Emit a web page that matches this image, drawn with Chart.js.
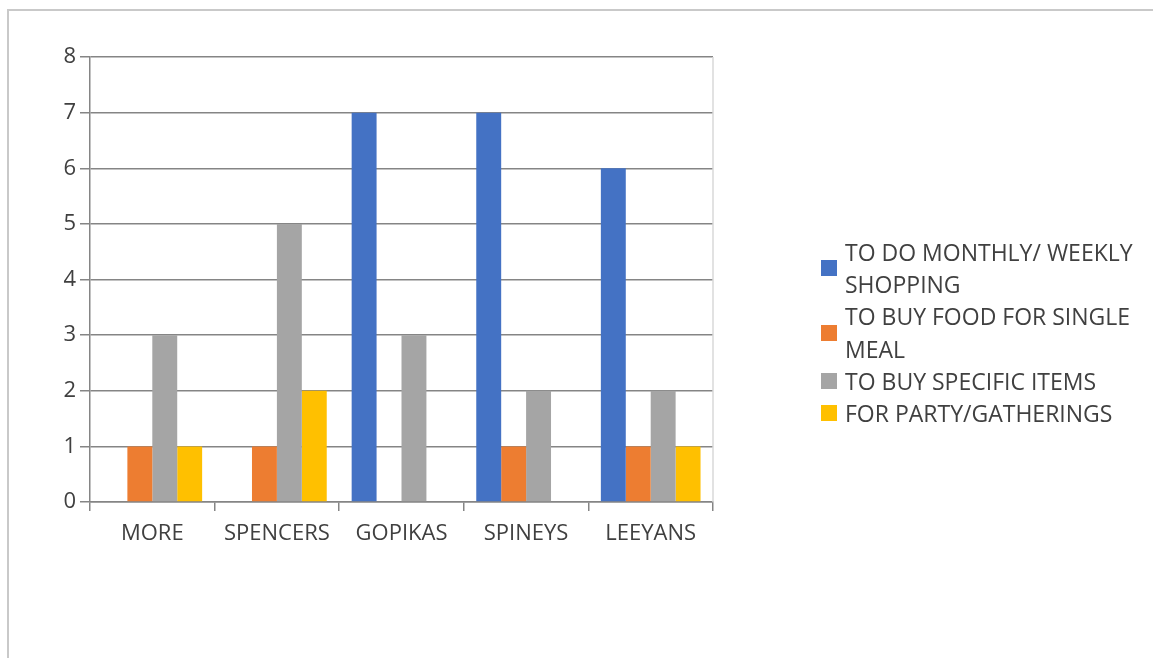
<!DOCTYPE html>
<html>
<head>
<meta charset="utf-8">
<script src="https://cdn.jsdelivr.net/npm/chart.js@4.4.1/dist/chart.umd.min.js"></script>
<style>
  html, body { margin: 0; padding: 0; background: #fff; }
  body { width: 1153px; height: 658px; position: relative; overflow: hidden; font-family: "Open Sans", sans-serif; }
  #frame { position: absolute; left: 7px; top: 9px; right: -10px; bottom: -10px; border-top: 2px solid #c9c9c9; border-left: 2px solid #c9c9c9; }
  #wrap { position: absolute; left: 0; top: 0; width: 1153px; height: 658px; }
  #legend { position: absolute; left: 821px; top: 236px; width: 326px; }
  .item { display: flex; align-items: center; color: #404040; font-size: 23px; line-height: 32.2px; }
  .box { width: 16px; height: 16px; flex: 0 0 16px; margin-right: 8px; }
</style>
</head>
<body>
<div id="frame"></div>
<div id="wrap"><canvas id="chart" width="1153" height="658"></canvas></div>
<div id="legend"></div>
<script>
// stores and reasons for visiting
const stores = ['MORE', 'SPENCERS', 'GOPIKAS', 'SPINEYS', 'LEEYANS'];
const monthlyWeekly = [0, 0, 7, 7, 6];
const singleMeal = [1, 1, 0, 1, 1];
const specificItems = [3, 5, 3, 2, 2];
const partyGatherings = [1, 2, 0, 0, 1];
const yTicks = [0, 1, 2, 3, 4, 5, 6, 7, 8];

(function () {
  function initChart() {
    if (typeof Chart === 'undefined') return;

    const rightBorder = {
      id: 'rightBorder',
      afterDraw(chart) {
        const a = chart.chartArea;
        const c = chart.ctx;
        c.save();
        c.strokeStyle = '#d9d9d9';
        c.lineWidth = 1.5;
        c.beginPath();
        c.moveTo(a.right, a.top);
        c.lineTo(a.right, a.bottom);
        c.stroke();
        c.restore();
      }
    };

    const ctx = document.getElementById('chart').getContext('2d');
    const chart = new Chart(ctx, {
      type: 'bar',
      data: {
        labels: stores,
        datasets: [
          { label: 'TO DO MONTHLY/ WEEKLY SHOPPING', data: monthlyWeekly, backgroundColor: '#4472C4' },
          { label: 'TO BUY FOOD FOR SINGLE MEAL', data: singleMeal, backgroundColor: '#ED7D31' },
          { label: 'TO BUY SPECIFIC ITEMS', data: specificItems, backgroundColor: '#A5A5A5' },
          { label: 'FOR PARTY/GATHERINGS', data: partyGatherings, backgroundColor: '#FFC000' }
        ]
      },
      options: {
        responsive: false,
        animation: false,
        layout: { padding: { left: 0, right: 440, top: 57, bottom: 0 } },
        datasets: { bar: { categoryPercentage: 0.8, barPercentage: 1.0 } },
        plugins: { legend: { display: false }, tooltip: { enabled: false } },
        scales: {
          x: {
            grid: { offset: true, drawOnChartArea: false, tickLength: 9, tickColor: '#858585', lineWidth: 1.5 },
            border: { color: '#858585', width: 1.5 },
            ticks: { color: '#404040', font: { family: 'Open Sans', size: 22 }, padding: 10, maxRotation: 0 },
            afterFit: function (s) { s.height = 156; }
          },
          y: {
            min: 0,
            max: 8,
            afterBuildTicks: function (s) { s.ticks = yTicks.map(v => ({ value: v })); },
            grid: { color: '#858585', lineWidth: 1.5, tickLength: 10, tickColor: '#858585' },
            border: { color: '#858585', width: 1.5 },
            ticks: { color: '#404040', font: { family: 'Open Sans', size: 22 }, padding: 4 },
            afterFit: function (s) { s.width = 90; }
          }
        }
      },
      plugins: [rightBorder]
    });

    const legend = document.getElementById('legend');
    chart.data.datasets.forEach(function (ds) {
      const item = document.createElement('div');
      item.className = 'item';
      const box = document.createElement('span');
      box.className = 'box';
      box.style.background = ds.backgroundColor;
      const txt = document.createElement('span');
      txt.textContent = ds.label;
      item.appendChild(box);
      item.appendChild(txt);
      legend.appendChild(item);
    });
  }

  if (document.readyState === 'loading') {
    document.addEventListener('DOMContentLoaded', initChart);
  } else {
    initChart();
  }
})();
</script>
</body>
</html>
